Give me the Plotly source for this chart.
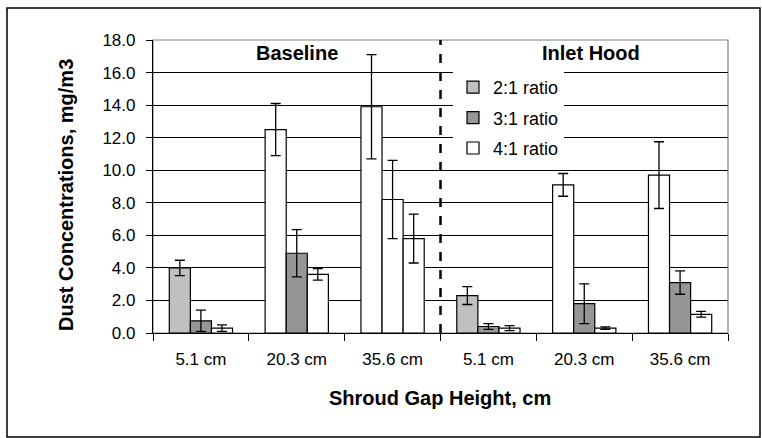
import plotly.graph_objects as go

# ---- data ----
categories = ["B 5.1", "B 20.3", "B 35.6", "H 5.1", "H 20.3", "H 35.6"]
tick_labels = ["5.1 cm", "20.3 cm", "35.6 cm", "5.1 cm", "20.3 cm", "35.6 cm"]
group_labels = ["Baseline", "Inlet Hood"]
series_names = ["2:1 ratio", "3:1 ratio", "4:1 ratio"]
x_title = "Shroud Gap Height, cm"
y_title = "Dust Concentrations, mg/m3"

ratio_2_1 = [4.0, 12.5, 13.9, 2.3, 9.1, 9.7]
ratio_2_1_err = [0.47, 1.6, 3.2, 0.55, 0.7, 2.05]
ratio_3_1 = [0.75, 4.9, 8.2, 0.4, 1.8, 3.1]
ratio_3_1_err = [0.65, 1.45, 2.4, 0.18, 1.22, 0.72]
ratio_4_1 = [0.3, 3.6, 5.8, 0.3, 0.3, 1.15]
ratio_4_1_err = [0.2, 0.35, 1.5, 0.15, 0.08, 0.18]

# bar fill colours as they appear in the original (per bar)
fill_2_1 = ["#C0C0C0", "#FFFFFF", "#FFFFFF", "#C0C0C0", "#FFFFFF", "#FFFFFF"]
fill_3_1 = ["#969696", "#969696", "#FFFFFF", "#969696", "#969696", "#969696"]
fill_4_1 = ["#FFFFFF", "#FFFFFF", "#FFFFFF", "#FFFFFF", "#FFFFFF", "#FFFFFF"]

FONT = "Liberation Sans, Arial, sans-serif"

fig = go.Figure()
values = [ratio_2_1, ratio_3_1, ratio_4_1]
errors = [ratio_2_1_err, ratio_3_1_err, ratio_4_1_err]
fills = [fill_2_1, fill_3_1, fill_4_1]
for name, v, e, f in zip(series_names, values, errors, fills):
    fig.add_trace(go.Bar(
        x=categories, y=v, name=name, legendgroup=name,
        marker=dict(color=f, line=dict(color="black", width=1.2)),
        error_y=dict(type="data", array=e, visible=True, color="black",
                     thickness=1.3, width=5),
    ))

W, H = 762, 438
L, R, T, B = 153, 34, 40, 105
pw, ph = W - L - R, H - T - B

fig.update_layout(
    width=W, height=H,
    margin=dict(l=L, r=R, t=T, b=B),
    paper_bgcolor="white", plot_bgcolor="white",
    barmode="group", bargap=0.34, bargroupgap=0.0,
    font=dict(family=FONT, size=13, color="black"),
    showlegend=True,
    legend=dict(x=(453 - L) / pw, y=1 - (69 - T) / ph, xanchor="left", yanchor="top",
                bgcolor="white", borderwidth=0, font=dict(size=18),
                tracegroupgap=4, itemwidth=30),
    xaxis=dict(
        type="category", categoryorder="array", categoryarray=categories,
        tickvals=categories, ticktext=tick_labels,
        tickson="boundaries", ticks="outside", ticklen=7, tickcolor="black",
        ticklabelstandoff=10,
        showline=True, linecolor="black", linewidth=1.2,
        showgrid=False, tickfont=dict(size=17),
        range=[-0.5, len(categories) - 0.5],
    ),
    yaxis=dict(
        range=[0, 18], dtick=2, tickformat=".1f",
        ticks="outside", ticklen=6, tickcolor="black",
        ticklabelstandoff=7,
        showline=True, linecolor="black", linewidth=1.2,
        showgrid=True, gridcolor="black", gridwidth=1,
        zeroline=False, tickfont=dict(size=17),
    ),
)

# axis titles
fig.add_annotation(x=(440 - L) / pw, y=-(398 - T - ph) / ph, xref="paper", yref="paper",
                   text="<b>" + x_title + "</b>", showarrow=False,
                   xanchor="center", yanchor="middle", font=dict(size=20))
fig.add_annotation(x=(66 - L) / pw, y=1 - (195 - T) / ph, xref="paper", yref="paper",
                   text="<b>" + y_title + "</b>", showarrow=False, textangle=-90,
                   xanchor="center", yanchor="middle", font=dict(size=20))

# plot area border (grey on top/right)
fig.add_shape(type="rect", xref="paper", yref="paper", x0=0, x1=1, y0=0, y1=1,
              line=dict(color="#808080", width=1.2), layer="below")
# outer chart border
fig.add_shape(type="rect", xref="paper", yref="paper",
              x0=(7 - L) / pw, x1=(760 - L) / pw,
              y0=-(437 - T - ph) / ph, y1=1 + (T - 8) / ph,
              line=dict(color="black", width=1.5))
# dashed separator between groups
sep = len(categories) / 2 - 0.5
fig.add_shape(type="line", xref="x", yref="paper", x0=sep, x1=sep, y0=0, y1=1,
              line=dict(color="black", width=2.5, dash="dash"))
# group labels
fig.add_annotation(x=1, y=1 - (53 - T) / ph, xref="x", yref="paper",
                   text="<b>" + group_labels[0] + "</b>", showarrow=False,
                   xanchor="center", yanchor="middle", font=dict(size=20))
fig.add_annotation(x=4, y=1 - (53 - T) / ph, xref="x", yref="paper",
                   text="<b>" + group_labels[1] + "</b>", showarrow=False,
                   xanchor="center", yanchor="middle", font=dict(size=20), xshift=7)

fig.write_html("out.html", config={"displayModeBar": False},
               post_script="document.body.style.margin='0px';document.body.style.overflow='hidden';")
